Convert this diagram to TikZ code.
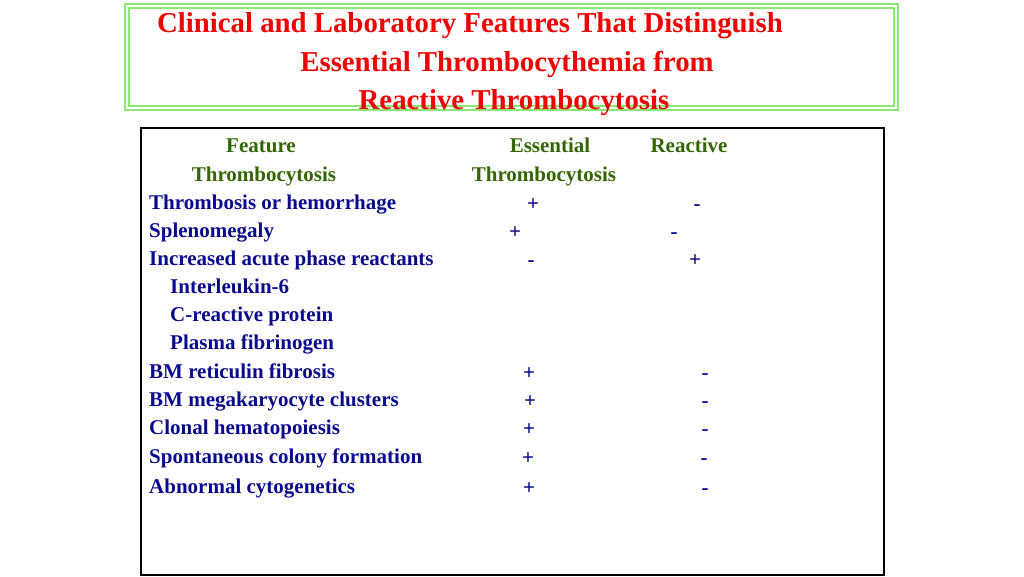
\documentclass[tikz,border=0pt]{standalone}
\usepackage{fontspec}
\setmainfont{Liberation Serif}
\definecolor{ttl}{HTML}{F00000}
\definecolor{hdr}{HTML}{336600}
\definecolor{bod}{HTML}{0A0A8C}
\definecolor{gbox}{HTML}{88E870}
\begin{document}
\begin{tikzpicture}[x=1pt,y=-1pt,
  every node/.style={inner sep=0,text height=0.7em,text depth=0.2em,yshift=-5pt},
  t/.style={font=\bfseries\fontsize{28.8}{30}\selectfont,text=ttl},
  h/.style={font=\bfseries\fontsize{21}{22}\selectfont,text=hdr},
  b/.style={font=\bfseries\fontsize{21}{22}\selectfont,text=bod,anchor=west},
  s/.style={font=\bfseries\fontsize{21}{22}\selectfont,text=bod}]
\useasboundingbox (0,0) rectangle (1024,576);
\draw[gbox,line width=2pt,double=white,double distance=1.5pt] (127,6) rectangle (896,108);
\draw[black,line width=2pt] (141,128) rectangle (884,575);
\node[t] (t1) at (470,25) {Clinical and Laboratory Features That Distinguish};
\node[t] (t2) at (507,64) {Essential Thrombocythemia from};
\node[t] (t3) at (514,102) {Reactive Thrombocytosis};
\node[h] (h1) at (261,145) {Feature};
\node[h] (h2) at (264,174) {Thrombocytosis};
\node[h] (h3) at (550,145) {Essential};
\node[h] (h4) at (544,174) {Thrombocytosis};
\node[h] (h5) at (689,145) {Reactive};
\node[b] (r1) at (149,202) {Thrombosis or hemorrhage};
\node[b] (r2) at (149,230) {Splenomegaly};
\node[b] (r3) at (149,258) {Increased acute phase reactants};
\node[b] (r4) at (170,286) {Interleukin-6};
\node[b] (r5) at (170,314) {C-reactive protein};
\node[b] (r6) at (170,342) {Plasma fibrinogen};
\node[b] (r7) at (149,371) {BM reticulin fibrosis};
\node[b] (r8) at (149,399) {BM megakaryocyte clusters};
\node[b] (r9) at (149,427) {Clonal hematopoiesis};
\node[b] (r10) at (149,456) {Spontaneous colony formation};
\node[b] (r11) at (149,486) {Abnormal cytogenetics};
\node[s] (a1) at (533,203) {+}; \node[s] (c1) at (697,203) {-};
\node[s] (a2) at (515,231) {+}; \node[s] (c2) at (674,231) {-};
\node[s] (a3) at (531,259) {-}; \node[s] (c3) at (695,259) {+};
\node[s] (a7) at (529,372) {+}; \node[s] (c7) at (705,372) {-};
\node[s] (a8) at (530,400) {+}; \node[s] (c8) at (705,400) {-};
\node[s] (a9) at (529,428) {+}; \node[s] (c9) at (705,428) {-};
\node[s] (a10) at (528,457) {+}; \node[s] (c10) at (704,457) {-};
\node[s] (a11) at (529,487) {+}; \node[s] (c11) at (705,487) {-};
\end{tikzpicture}
\end{document}
